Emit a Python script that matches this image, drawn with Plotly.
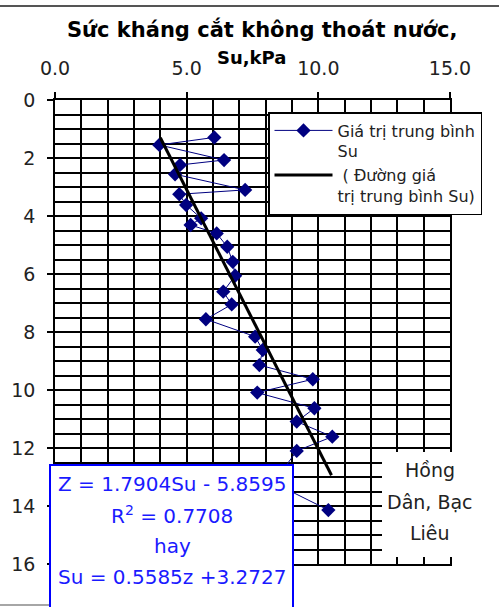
import plotly.graph_objects as go

# ---- data ----
su_values = [6.05, 3.96, 6.42, 4.75, 4.56, 7.22, 4.72, 4.98, 5.55, 5.15, 6.14, 6.54, 6.75, 6.84,
             6.39, 6.71, 5.73, 7.60, 7.89, 7.76, 9.79, 7.68, 9.85, 9.18, 10.53, 9.18, 8.30, 10.38]
depth_values = [1.29, 1.55, 2.07, 2.24, 2.56, 3.10, 3.25, 3.62, 4.08, 4.31, 4.60, 5.06, 5.58, 6.06,
                6.61, 7.05, 7.56, 8.16, 8.62, 9.14, 9.63, 10.09, 10.63, 11.09, 11.61, 12.10, 13.20, 14.14]
trend_su = [4.0, 10.5]
trend_depth = [1.30, 12.94]
x_tick_vals = [0, 5, 10, 15]
x_tick_text = ["0.0", "5.0", "10.0", "15.0"]

W, H = 499, 607
ML, MR, MT, MB = 55, 49, 100, 43
PW, PH = W - ML - MR, H - MT - MB


def px(x):
    return (x - ML) / PW


def py(y):
    return (H - MB - y) / PH


FONT = "DejaVu Sans"
NAVY = "#000080"
BLUE = "#1a1aff"

fig = go.Figure()
fig.add_trace(go.Scatter(
    x=su_values, y=depth_values, mode="lines+markers",
    name="Giá trị trung bình<br>Su",
    line=dict(color=NAVY, width=1),
    marker=dict(symbol="diamond", size=11, color=NAVY),
))
fig.add_trace(go.Scatter(
    x=trend_su, y=trend_depth, mode="lines",
    name=" ( Đường giá<br>trị trung bình Su)",
    line=dict(color="black", width=3),
))

grid = dict(showgrid=True, gridcolor="black", gridwidth=1.5)
fig.update_xaxes(
    side="top", range=[0, 15], tickvals=x_tick_vals, ticktext=x_tick_text,
    ticks="outside", ticklen=6, tickwidth=1.5, tickcolor="black",
    showline=True, linecolor="black", linewidth=1.5, mirror=True,
    tickfont=dict(family=FONT, size=19, color="#222"), ticklabelstandoff=10,
    minor=dict(dtick=1, **grid), zeroline=False, **grid,
)
fig.update_yaxes(
    range=[16, 0], dtick=2,
    ticks="outside", ticklen=6, tickwidth=1.5, tickcolor="black",
    showline=True, linecolor="black", linewidth=1.5, mirror=True,
    tickfont=dict(family=FONT, size=19, color="#222"), ticklabelstandoff=8,
    minor=dict(dtick=0.5, **grid), zeroline=False, **grid,
)

shapes = [
    # top border line
    dict(type="line", xref="paper", yref="paper", x0=px(0), x1=px(W), y0=py(6), y1=py(6),
         line=dict(color="#555", width=2), layer="above"),
    # bottom-left border line
    dict(type="line", xref="paper", yref="paper", x0=px(0), x1=px(50), y0=py(605), y1=py(605),
         line=dict(color="#888", width=1.5), layer="above"),
    # white box behind location label
    dict(type="rect", xref="paper", yref="paper", x0=px(382), x1=px(482), y0=py(557), y1=py(452),
         fillcolor="white", line=dict(width=0), layer="above"),
    # equation box
    dict(type="rect", xref="paper", yref="paper", x0=px(50), x1=px(293), y0=py(615), y1=py(465),
         fillcolor="white", line=dict(color="#0000ff", width=2), layer="above"),
]

annotations = [
    dict(text="<b>Sức kháng cắt không thoát nước,</b>", x=px(262), y=py(30),
         font=dict(family=FONT, size=21, color="black")),
    dict(text="<b>Su,kPa</b>", x=px(251), y=py(57),
         font=dict(family=FONT, size=18, color="black")),
    dict(text="Hồng", x=px(430), y=py(470), font=dict(family=FONT, size=19, color="#222")),
    dict(text="Dân, Bạc", x=px(430), y=py(502), font=dict(family=FONT, size=19, color="#222")),
    dict(text="Liêu", x=px(430), y=py(533), font=dict(family=FONT, size=19, color="#222")),
    dict(text="Z = 1.7904Su - 5.8595", x=px(172), y=py(484), font=dict(family=FONT, size=20, color=BLUE)),
    dict(text="R<sup>2</sup> = 0.7708", x=px(172), y=py(515), font=dict(family=FONT, size=20, color=BLUE)),
    dict(text="hay", x=px(172), y=py(546), font=dict(family=FONT, size=20, color=BLUE)),
    dict(text="Su = 0.5585z +3.2727", x=px(172), y=py(577), font=dict(family=FONT, size=20, color=BLUE)),
]
for a in annotations:
    a.update(xref="paper", yref="paper", xanchor="center", yanchor="middle", showarrow=False)

fig.update_layout(
    width=W, height=H, margin=dict(l=ML, r=MR, t=MT, b=MB, pad=0),
    paper_bgcolor="white", plot_bgcolor="white",
    showlegend=True,
    legend=dict(x=px(268), y=py(112), xanchor="left", yanchor="top",
                bgcolor="white", bordercolor="black", borderwidth=1.5,
                font=dict(family=FONT, size=16, color="#222"), valign="top",
                itemwidth=58, tracegroupgap=4),
    shapes=shapes, annotations=annotations,
)

fig.write_html("out.html")
